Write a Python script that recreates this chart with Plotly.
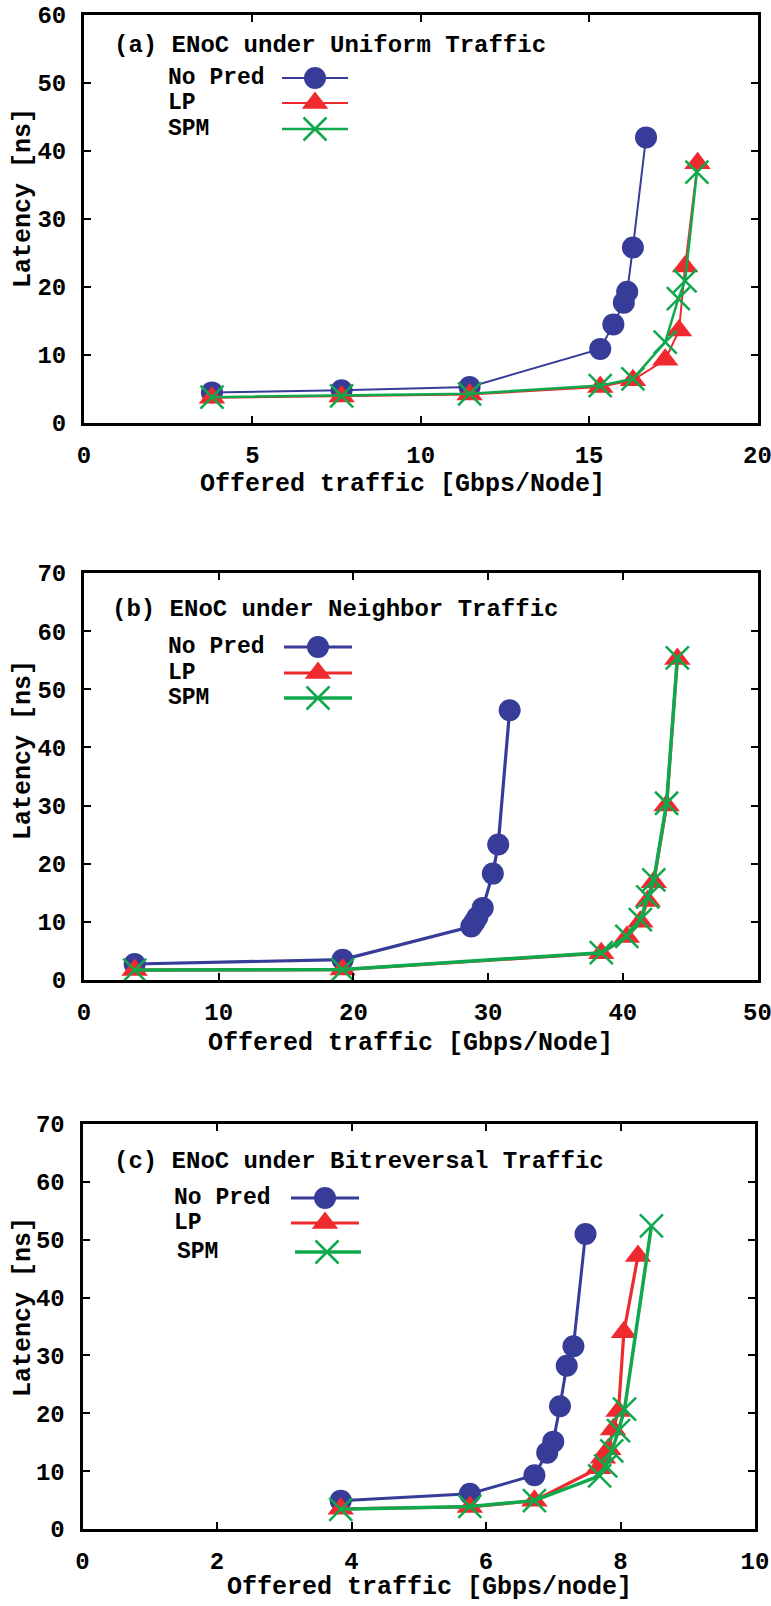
import plotly.graph_objects as go

W, H = 771, 1606

# ---------------- data ----------------
# (a) Uniform traffic
a_nopred_x = [3.8, 7.65, 11.45, 15.33, 15.72, 16.03, 16.13, 16.3, 16.69]
a_nopred_y = [4.5, 4.8, 5.3, 10.9, 14.5, 17.7, 19.3, 25.8, 42.0]
a_lp_x = [3.8, 7.65, 11.45, 15.33, 16.3, 17.26, 17.67, 17.85, 18.22]
a_lp_y = [3.7, 3.9, 4.2, 5.3, 6.3, 9.3, 13.6, 23.0, 38.2]
a_spm_x = [3.8, 7.65, 11.45, 15.33, 16.3, 17.26, 17.65, 17.85, 18.2]
a_spm_y = [3.8, 4.0, 4.3, 5.5, 6.5, 11.9, 18.3, 20.9, 36.9]

# (b) Neighbor traffic
b_nopred_x = [3.76, 19.2, 28.75, 29.0, 29.2, 29.6, 30.35, 30.75, 31.6]
b_nopred_y = [2.75, 3.5, 9.2, 10.0, 10.8, 12.4, 18.3, 23.3, 46.4]
b_lp_x = [3.76, 19.2, 38.4, 40.3, 41.3, 41.85, 42.3, 43.25, 44.05]
b_lp_y = [1.7, 1.8, 4.6, 7.4, 10.0, 13.6, 16.8, 30.0, 55.2]
b_spm_x = [3.76, 19.2, 38.4, 40.3, 41.3, 41.85, 42.3, 43.25, 44.05]
b_spm_y = [1.7, 1.8, 4.7, 7.5, 10.4, 14.3, 17.2, 30.4, 55.4]

# (c) Bitreversal traffic
c_nopred_x = [3.84, 5.76, 6.72, 6.91, 7.0, 7.1, 7.2, 7.3, 7.48]
c_nopred_y = [4.9, 6.1, 9.3, 13.2, 15.1, 21.2, 28.2, 31.6, 51.0]
c_lp_x = [3.84, 5.76, 6.72, 7.67, 7.74, 7.82, 7.89, 7.97, 8.05, 8.26]
c_lp_y = [3.5, 3.8, 4.9, 10.5, 12.3, 13.8, 17.2, 20.4, 34.0, 47.2]
c_spm_x = [3.84, 5.76, 6.72, 7.69, 7.78, 7.87, 7.97, 8.06, 8.46]
c_spm_y = [3.4, 3.9, 4.9, 9.2, 10.9, 13.5, 17.0, 20.7, 52.4]

series_names = ["No Pred", "LP", "SPM"]
panel_titles = ["(a) ENoC under Uniform Traffic",
                "(b) ENoC under Neighbor Traffic",
                "(c) ENoC under Bitreversal Traffic"]
x_titles = ["Offered traffic [Gbps/Node]",
            "Offered traffic [Gbps/Node]",
            "Offered traffic [Gbps/node]"]
y_title = "Latency [ns]"
x_ranges = [(0, 20, 5), (0, 50, 10), (0, 10, 2)]
y_ranges = [(0, 60, 10), (0, 70, 10), (0, 70, 10)]

BLUE = "#363c98"
RED = "#ee2a2e"
GREEN = "#0fa84c"
FONT = "Liberation Mono, Courier New, monospace"

def px(x):
    return x / W

def py(y):
    return 1 - y / H

# frames in pixel coords: (left, right, top, bottom)
frames = [(84, 757.5, 15, 423), (84, 757.5, 573, 980), (82.5, 755, 1124, 1529)]
lws = [(2, 2, 2.5), (3.2, 3.2, 3.5), (3, 3.2, 3.5)]

fig = go.Figure()

panel_data = [
    (a_nopred_x, a_nopred_y, a_lp_x, a_lp_y, a_spm_x, a_spm_y),
    (b_nopred_x, b_nopred_y, b_lp_x, b_lp_y, b_spm_x, b_spm_y),
    (c_nopred_x, c_nopred_y, c_lp_x, c_lp_y, c_spm_x, c_spm_y),
]

TRI = 23

for i, d in enumerate(panel_data):
    xa = "x" if i == 0 else f"x{i+1}"
    ya = "y" if i == 0 else f"y{i+1}"
    w1, w2, w3 = lws[i]
    fig.add_trace(go.Scatter(x=d[0], y=d[1], mode="lines+markers", name=series_names[0],
                             xaxis=xa, yaxis=ya, cliponaxis=False,
                             line=dict(color=BLUE, width=w1),
                             marker=dict(symbol="circle", size=22, color=BLUE)))
    fig.add_trace(go.Scatter(x=d[2], y=d[3], mode="lines+markers", name=series_names[1],
                             xaxis=xa, yaxis=ya, cliponaxis=False,
                             line=dict(color=RED, width=w2),
                             marker=dict(symbol="triangle-up", size=TRI, color=RED)))
    fig.add_trace(go.Scatter(x=d[4], y=d[5], mode="lines+markers", name=series_names[2],
                             xaxis=xa, yaxis=ya, cliponaxis=False,
                             line=dict(color=GREEN, width=w3),
                             marker=dict(symbol="x-thin", size=23, color=GREEN,
                                         line=dict(color=GREEN, width=2.5))))

axis_common = dict(showline=True, linewidth=3, linecolor="black", mirror="ticks",
                   ticks="inside", ticklen=7, tickwidth=2, tickcolor="black",
                   showgrid=False, zeroline=False, fixedrange=True, automargin=False,
                   ticklabeloverflow="allow",
                   tickfont=dict(family=FONT, size=24, color="black", weight="bold"))

layout = dict(width=W, height=H, autosize=False, margin=dict(l=0, r=0, t=0, b=0, pad=0),
              paper_bgcolor="white", plot_bgcolor="rgba(0,0,0,0)", showlegend=False)

for i in range(3):
    l, r, t, b = frames[i]
    xk = "xaxis" if i == 0 else f"xaxis{i+1}"
    yk = "yaxis" if i == 0 else f"yaxis{i+1}"
    xa = "x" if i == 0 else f"x{i+1}"
    ya = "y" if i == 0 else f"y{i+1}"
    x0, x1, xd = x_ranges[i]
    y0, y1, yd = y_ranges[i]
    layout[xk] = dict(axis_common, domain=[px(l), px(r)], range=[x0, x1], dtick=xd,
                      tick0=0, anchor=ya, ticklabelstandoff=8)
    layout[yk] = dict(axis_common, domain=[py(b), py(t)], range=[y0, y1], dtick=yd,
                      tick0=0, anchor=xa, ticklabelstandoff=10)

# hidden pixel-coordinate axes for the legend keys
layout["xaxis4"] = dict(domain=[0, 1], range=[0, W], visible=False, anchor="y4", fixedrange=True)
layout["yaxis4"] = dict(domain=[0, 1], range=[H, 0], visible=False, anchor="x4", fixedrange=True)

fig.update_layout(**layout)

annotations = []

# panel titles
title_pos = [(112, 45), (110, 610), (112, 1161)]
for i, (tx, ty) in enumerate(title_pos):
    annotations.append(dict(text=panel_titles[i], x=px(tx), y=py(ty), xref="paper", yref="paper",
                            xanchor="left", yanchor="middle", showarrow=False,
                            font=dict(family=FONT, size=24, color="black", weight="bold")))

# x titles
xt_pos = [(402, 484), (410, 1043), (429, 1587)]
for i, (tx, ty) in enumerate(xt_pos):
    annotations.append(dict(text=x_titles[i], x=px(tx), y=py(ty), xref="paper", yref="paper",
                            xanchor="center", yanchor="middle", showarrow=False,
                            font=dict(family=FONT, size=25, color="black", weight="bold")))

# y titles
yt_pos = [(23, 198), (23, 750), (23, 1307)]
for i, (tx, ty) in enumerate(yt_pos):
    annotations.append(dict(text=y_title, x=px(tx), y=py(ty), xref="paper", yref="paper",
                            xanchor="center", yanchor="middle", showarrow=False, textangle=-90,
                            font=dict(family=FONT, size=25, color="black", weight="bold")))

# legends: (text_x, [row ys], [(line_x0, line_x1, marker_x)])
legends = [
    (166, [78, 103, 129], [(282, 348, 315)] * 3),
    (166, [647, 673, 698], [(284, 352, 318)] * 3),
    (172, [1198, 1223, 1252], [(291, 359, 325), (291, 359, 325), (295, 361, 327)]),
]
colors = [BLUE, RED, GREEN]
symbols = ["circle", "triangle-up", "x-thin"]
sizes = [22, TRI, 23]
for i, (tx, rows, keys) in enumerate(legends):
    w = lws[i]
    for j in range(3):
        annotations.append(dict(text=series_names[j], x=px(tx + (3 if (i == 2 and j == 2) else 0)),
                                y=py(rows[j]), xref="paper", yref="paper",
                                xanchor="left", yanchor="middle", showarrow=False,
                                font=dict(family=FONT, size=23, color="black", weight="bold")))
        lx0, lx1, mx = keys[j]
        fig.add_trace(go.Scatter(x=[lx0, lx1], y=[rows[j], rows[j]], mode="lines",
                                 xaxis="x4", yaxis="y4", hoverinfo="skip",
                                 line=dict(color=colors[j], width=w[j])))
        mk = dict(symbol=symbols[j], size=sizes[j], color=colors[j])
        if symbols[j] == "x-thin":
            mk["line"] = dict(color=colors[j], width=2.5)
        fig.add_trace(go.Scatter(x=[mx], y=[rows[j]], mode="markers",
                                 xaxis="x4", yaxis="y4", hoverinfo="skip", marker=mk))

fig.update_layout(annotations=annotations)
fig.write_html("out.html", config={"displayModeBar": False},
               post_script="document.body.style.margin='0';document.body.style.overflow='hidden';")
